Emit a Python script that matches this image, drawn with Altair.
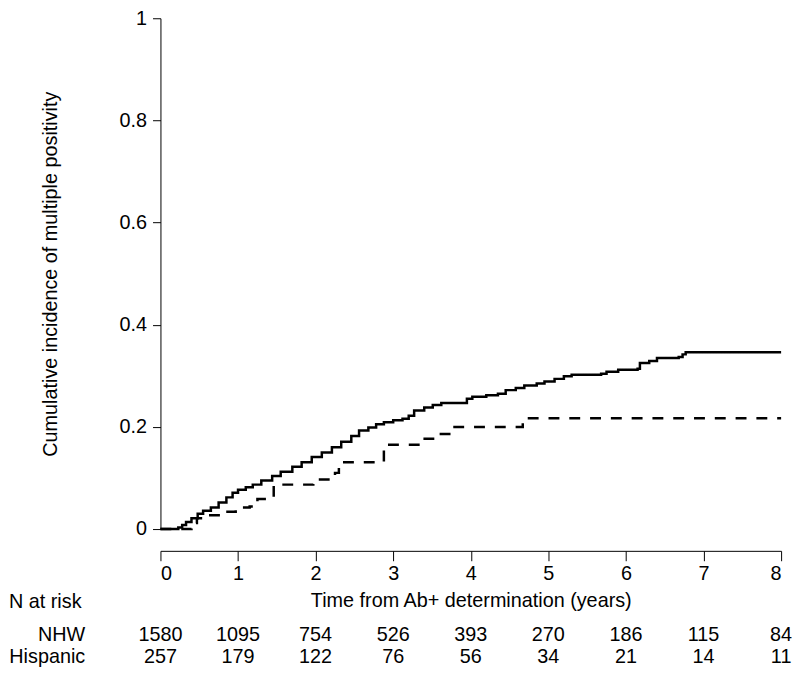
import altair as alt
import pandas as pd

# Cumulative incidence step curves
nhw_t = [0, 0.23, 0.28, 0.33, 0.40, 0.48, 0.55, 0.65, 0.75, 0.85, 0.93, 1.00, 1.10, 1.19,
         1.30, 1.44, 1.55, 1.70, 1.82, 1.95, 2.08, 2.21, 2.33, 2.46, 2.56, 2.68, 2.78, 2.88,
         3.00, 3.12, 3.20, 3.27, 3.40, 3.51, 3.62, 3.95, 4.02, 4.20, 4.35, 4.45, 4.58, 4.69,
         4.85, 4.95, 5.08, 5.20, 5.30, 5.68, 5.75, 5.90, 6.15, 6.18, 6.30, 6.40, 6.68, 6.73,
         6.77, 8.00]
nhw_y = [0, 0.003, 0.008, 0.014, 0.021, 0.030, 0.036, 0.042, 0.052, 0.062, 0.071, 0.077,
         0.082, 0.087, 0.095, 0.104, 0.112, 0.122, 0.131, 0.141, 0.150, 0.160, 0.171, 0.182,
         0.193, 0.199, 0.205, 0.209, 0.213, 0.216, 0.222, 0.232, 0.238, 0.243, 0.247, 0.255,
         0.259, 0.262, 0.265, 0.272, 0.276, 0.281, 0.285, 0.289, 0.294, 0.299, 0.302, 0.304,
         0.308, 0.312, 0.314, 0.325, 0.329, 0.335, 0.337, 0.342, 0.346, 0.346]

his_t = [0, 0.40, 0.43, 0.47, 0.60, 0.80, 0.97, 1.15, 1.25, 1.40, 1.46, 1.50, 1.97, 2.25,
         2.30, 2.88, 3.36, 3.55, 3.76, 4.67, 8.00]
his_y = [0, 0.005, 0.012, 0.021, 0.027, 0.034, 0.042, 0.044, 0.059, 0.061, 0.082, 0.087,
         0.097, 0.110, 0.131, 0.165, 0.177, 0.186, 0.200, 0.217, 0.217]

# Number at risk table
risk_times = [0, 1, 2, 3, 4, 5, 6, 7, 8]
nhw_n = [1580, 1095, 754, 526, 393, 270, 186, 115, 84]
his_n = [257, 179, 122, 76, 56, 34, 21, 14, 11]
row_labels = ["NHW", "Hispanic"]

FONT = "Liberation Sans"
FS = 20
ROW_Y = [629, 651]

curve_df = pd.concat([
    pd.DataFrame({"t": nhw_t, "cif": nhw_y, "group": "NHW"}),
    pd.DataFrame({"t": his_t, "cif": his_y, "group": "Hispanic"}),
])

xscale = alt.Scale(domain=[0, 8], nice=False, zero=False)

lines = alt.Chart(curve_df).mark_line(
    interpolate="step-after", color="black", strokeWidth=2.5
).encode(
    x=alt.X("t:Q", scale=xscale,
            axis=alt.Axis(values=risk_times, format="d", offset=22, tickSize=10,
                          labelPadding=3, labelAngle=0,
                          title="Time from Ab+ determination (years)",
                          titleY=56, titleBaseline="alphabetic")),
    y=alt.Y("cif:Q", scale=alt.Scale(domain=[0, 1], nice=False),
            axis=alt.Axis(values=[0, 0.2, 0.4, 0.6, 0.8, 1], format="~g", tickSize=8,
                          labelPadding=6,
                          title="Cumulative incidence of multiple positivity",
                          titleX=-105, titleY=258, titleAngle=270,
                          titleAlign="center", titleBaseline="alphabetic")),
    strokeDash=alt.StrokeDash("group:N",
                              scale=alt.Scale(domain=["NHW", "Hispanic"],
                                              range=[[1, 0], [11, 10]]),
                              legend=None),
)

nhw_df = pd.DataFrame({"t": risk_times, "n": nhw_n})
his_df = pd.DataFrame({"t": risk_times, "n": his_n})

nhw_text = alt.Chart(nhw_df).mark_text(
    font=FONT, fontSize=FS, baseline="alphabetic", align="center", color="black"
).encode(x=alt.X("t:Q", scale=xscale), y=alt.value(ROW_Y[0]), text="n:Q")

his_text = alt.Chart(his_df).mark_text(
    font=FONT, fontSize=FS, baseline="alphabetic", align="center", color="black"
).encode(x=alt.X("t:Q", scale=xscale), y=alt.value(ROW_Y[1]), text="n:Q")

hdr_df = pd.DataFrame({"label": ["N at risk"]})
hdr = alt.Chart(hdr_df).mark_text(
    font=FONT, fontSize=FS, baseline="alphabetic", align="left", color="black"
).encode(x=alt.value(-153), y=alt.value(596), text="label:N")

lab_df = pd.DataFrame({"label": row_labels, "ypix": ROW_Y})
labs = alt.Chart(lab_df).mark_text(
    font=FONT, fontSize=FS, baseline="alphabetic", align="right", color="black"
).encode(x=alt.value(-76), y=alt.Y("ypix:Q", scale=None), text="label:N")

chart = alt.layer(lines, nhw_text, his_text, hdr, labs).properties(
    width=627, height=516,
    padding={"left": 154, "top": 7, "right": 11, "bottom": 138},
    autosize=alt.AutoSizeParams(type="none"),
    background="white",
).configure_view(stroke=None).configure_axis(
    grid=False, domainColor="black", tickColor="black", domainWidth=1, tickWidth=1,
    labelColor="black", labelFont=FONT, labelFontSize=FS,
    titleColor="black", titleFont=FONT, titleFontSize=FS, titleFontWeight="normal",
)

chart.save("out.html", embed_options={"renderer": "svg", "actions": False})
